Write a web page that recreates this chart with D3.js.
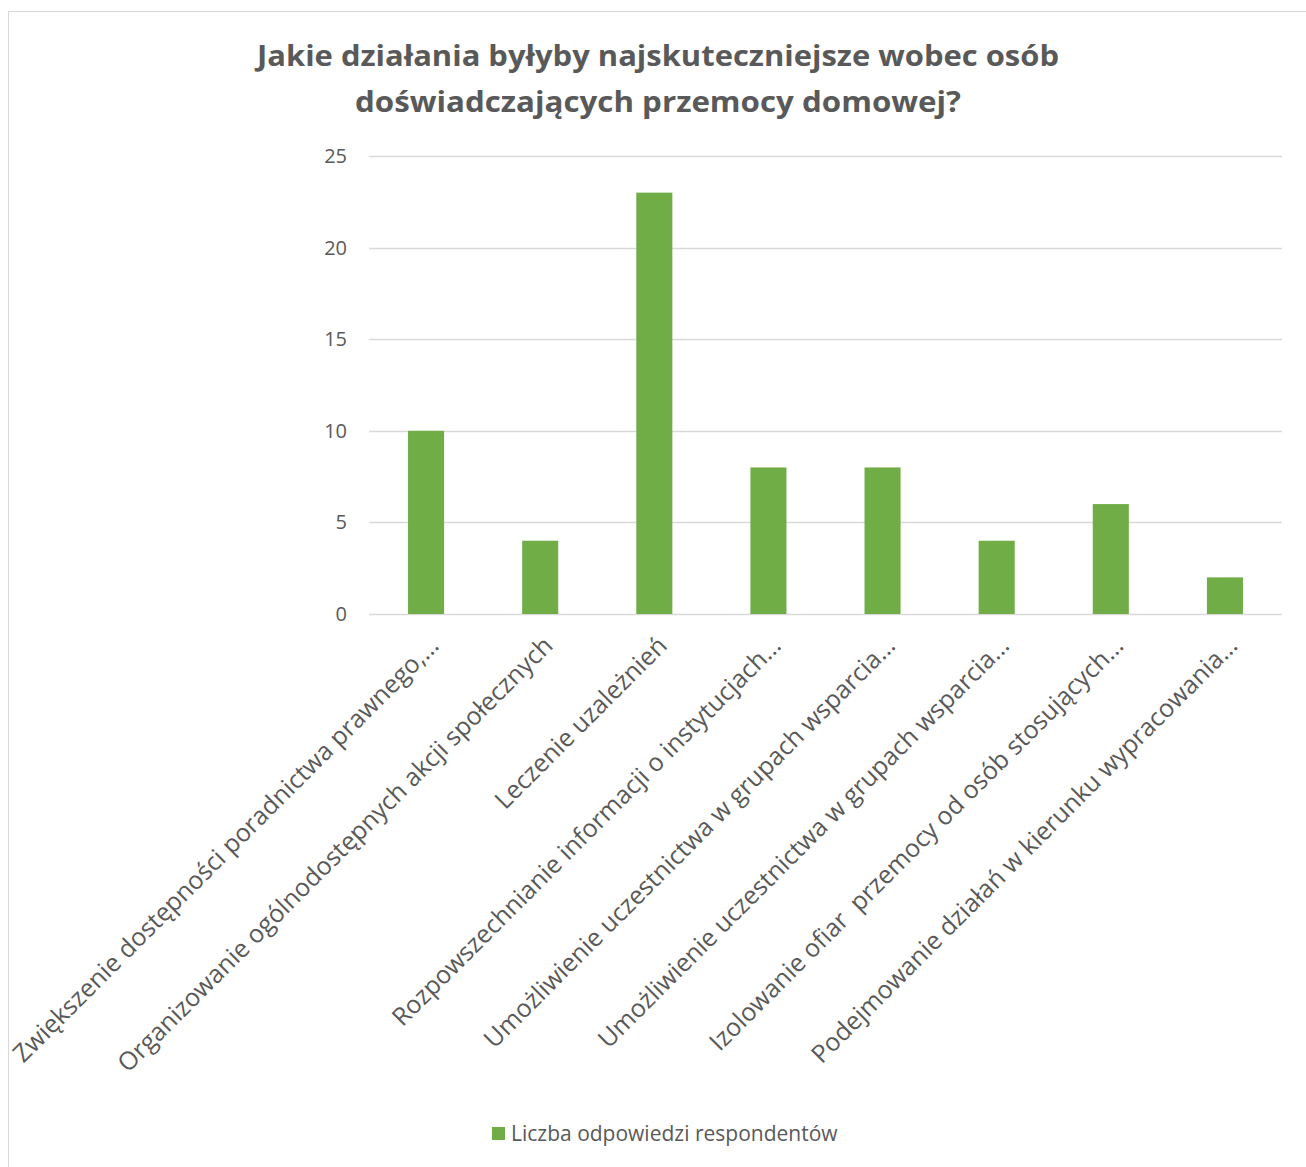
<!DOCTYPE html>
<html><head><meta charset="utf-8">
<script src="https://cdn.jsdelivr.net/npm/d3@7"></script>
<style>body{margin:0;background:#fff}svg{display:block}text{white-space:pre}</style>
</head><body>
<script>
const categories = [
  "Zwiększenie dostępności poradnictwa prawnego,…",
  "Organizowanie ogólnodostępnych akcji społecznych",
  "Leczenie uzależnień",
  "Rozpowszechnianie informacji o instytucjach…",
  "Umożliwienie uczestnictwa w grupach wsparcia…",
  "Umożliwienie uczestnictwa w grupach wsparcia…",
  "Izolowanie ofiar  przemocy od osób stosujących…",
  "Podejmowanie działań w kierunku wypracowania…"
];
const values = [10, 4, 23, 8, 8, 4, 6, 2];
const yTicks = [0, 5, 10, 15, 20, 25];
const seriesName = "Liczba odpowiedzi respondentów";
const titleLines = ["Jakie działania byłyby najskuteczniejsze wobec osób", "doświadczających przemocy domowej?"];

const W = 1306, H = 1167;
const svg = d3.select("body").append("svg").attr("width", W).attr("height", H);
svg.append("rect").attr("x", 8.5).attr("y", 11.5).attr("width", W + 10).attr("height", H + 10)
  .attr("fill", "#fff").attr("stroke", "#d9d9d9");

const plot = {left: 369, right: 1282, top: 156, bottom: 614};
const x = d3.scaleBand().domain(d3.range(categories.length)).range([plot.left, plot.right]).paddingInner(0.684).paddingOuter(0.342);
const y = d3.scaleLinear().domain([0, 25]).range([plot.bottom, plot.top]);

const font = "'Open Sans', sans-serif";
const grey = "#595959";

// title
const title = svg.append("text").attr("text-anchor", "middle").attr("font-family", font)
  .attr("font-weight", "bold").attr("fill", grey).attr("font-size", 28);
title.selectAll("tspan").data(titleLines).join("tspan")
  .attr("x", 658).attr("y", (d, i) => 66 + i * 46).text(d => d);
title.selectAll("tspan").each(function(d, i) {
  const target = i === 0 ? 802 : 606;
  d3.select(this).attr("textLength", target).attr("lengthAdjust", "spacingAndGlyphs");
});

// grid
svg.append("g").selectAll("line").data(yTicks).join("line")
  .attr("x1", plot.left).attr("x2", plot.right)
  .attr("y1", d => Math.round(y(d)) + 0.5).attr("y2", d => Math.round(y(d)) + 0.5)
  .attr("stroke", "#d9d9d9").attr("stroke-width", 1.3);

// y axis
const yAxis = svg.append("g").attr("transform", `translate(${plot.left},0)`)
  .call(d3.axisLeft(y).tickValues(yTicks).tickSize(0).tickPadding(22));
yAxis.select(".domain").remove();
yAxis.selectAll("text").attr("font-family", font).attr("font-size", 20).attr("fill", grey);

// bars
svg.append("g").selectAll("rect").data(values).join("rect")
  .attr("x", (d, i) => x(i)).attr("width", x.bandwidth())
  .attr("y", d => y(d)).attr("height", d => y(0) - y(d))
  .attr("fill", "#70ad47");

// x labels
const xAxis = svg.append("g").attr("transform", `translate(0,${plot.bottom})`)
  .call(d3.axisBottom(x).tickFormat(i => categories[i]).tickSize(0).tickPadding(0));
xAxis.select(".domain").remove();
xAxis.selectAll("text")
  .attr("font-family", font).attr("font-size", 25).attr("fill", grey)
  .attr("text-anchor", "end")
  .attr("transform", "translate(8,27) rotate(-45)")
  .attr("dy", "0.35em");

// legend
const lg = svg.append("g");
lg.append("rect").attr("x", 492).attr("y", 1127).attr("width", 13).attr("height", 13).attr("fill", "#70ad47");
lg.append("text").attr("x", 511).attr("y", 1141).attr("font-family", font).attr("font-size", 21)
  .attr("fill", grey).text(seriesName);
</script>
</body></html>
